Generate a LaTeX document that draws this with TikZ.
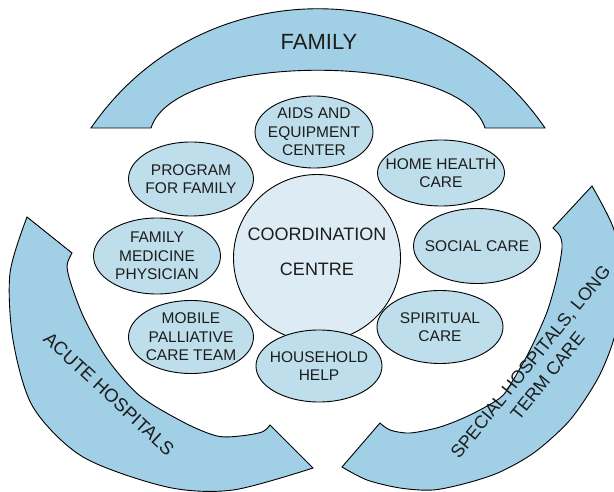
\documentclass[tikz,border=0pt]{standalone}
\usepackage{fontspec}
\setmainfont{Liberation Sans}
\usetikzlibrary{shapes.geometric,positioning}

\definecolor{bandblue}{RGB}{160,207,230}
\definecolor{boxblue}{RGB}{190,222,236}
\definecolor{hubblue}{RGB}{221,235,244}
\definecolor{inkgray}{RGB}{28,28,28}

\begin{document}
\begin{tikzpicture}[x=1pt,y=-1pt,
  band/.style={draw=black,fill=bandblue,line width=0.9pt},
  service/.style={ellipse,draw=black,fill=boxblue,line width=0.9pt,
    minimum width=126pt,minimum height=74pt,inner xsep=-25pt,inner ysep=-10pt,
    align=center,text=inkgray,font=\fontsize{15.5}{18.5}\selectfont},
  hub/.style={circle,draw=black,fill=hubblue,line width=0.9pt,minimum size=167pt,
    align=center,text=inkgray,text depth=12pt,font=\fontsize{18}{35}\selectfont},
  bandtext/.style={text=inkgray,align=center,font=\fontsize{18.5}{22}\selectfont}]

\useasboundingbox (0,0) rectangle (614,492);
\clip (0,0) rectangle (614,492);

\draw[band] (91,128) .. controls (200,-31) and (436,-31) .. (545,128)
  -- (485,128) .. controls (461,51) and (175,51) .. (151,128) -- cycle;

\draw[band] plot[smooth] coordinates {(27,217) (10,273) (13,340) (33,407) (83,457)
    (167,487) (233,490) (313,468)}
  -- plot[smooth] coordinates {(270,425) (262,432) (240,436) (217,436) (185,423)
    (140,396) (108,360) (85,320) (72,287) (67,266) (72,253)} -- cycle;

\draw[band] plot[smooth] coordinates {(342,467) (367,480) (400,488) (433,490)
    (467,483) (500,472) (535,452) (570,420) (597,380) (612,345) (620,310)
    (622,270) (613,227) (592,186)}
  -- plot[smooth] coordinates {(553,228) (560,236) (562,248) (557,277) (547,312)
    (530,350) (512,382) (500,398) (470,415) (440,427) (410,433) (390,430)
    (380,423)} -- cycle;

\node (familylabel) [bandtext,font=\fontsize{22}{26}\selectfont] at (319,42) {FAMILY};
\node (acutelabel) [bandtext,rotate=-43] at (109,394) {ACUTE HOSPITALS};
\node (speciallabel) [bandtext,rotate=51,font=\fontsize{18}{22}\selectfont] at (539,369) {SPECIAL HOSPITALS, LONG\\TERM CARE};

\node (centre) [hub] at (317,258) {COORDINATION\\CENTRE};

\node (aids) [service,minimum width=118pt,minimum height=72pt] at (314,132) {AIDS AND\\EQUIPMENT\\CENTER};
\node (home) [service,minimum width=127pt,minimum height=66pt] at (441,173) {HOME HEALTH\\CARE};
\node (social) [service,minimum width=127pt,minimum height=75pt] at (477,246) {SOCIAL CARE};
\node (spiritual) [service,minimum height=73pt] at (440,327) {SPIRITUAL\\CARE};
\node (household) [service,minimum height=72pt] at (319,366) {HOUSEHOLD\\HELP};
\node (mobile) [service,minimum width=125pt,minimum height=73pt] at (191,337) {MOBILE\\PALLIATIVE\\CARE TEAM};
\node (physician) [service,minimum width=127pt,minimum height=76pt] at (157,256) {FAMILY\\MEDICINE\\PHYSICIAN};
\node (program) [service,minimum width=125pt] at (191,179) {PROGRAM\\FOR FAMILY};

\end{tikzpicture}
\end{document}
